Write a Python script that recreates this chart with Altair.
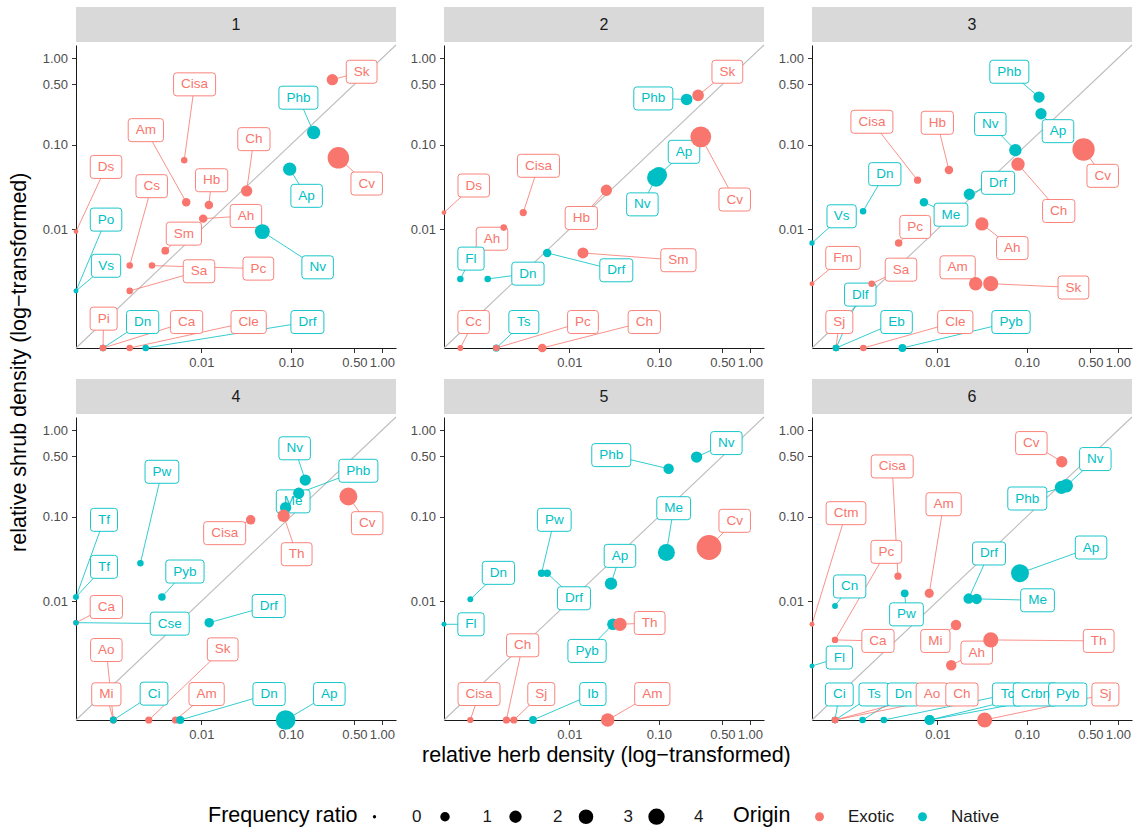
import altair as alt
import pandas as pd

FONT = "Liberation Sans"
EXOTIC, NATIVE = "#F8766D", "#00BFC4"

# ---------------- data ----------------
PANEL_NAMES = ["1", "2", "3", "4", "5", "6"]
DIAG = [0.0, 1.43]

P1_SPECIES = ["Sk", "Phb", "Cv", "Cisa", "Ap", "Ch", "Am", "Hb", "Ah", "Nv", "Ds", "Sm", "Cs", "Pc", "Sa", "Vs", "Po", "Pi", "Dn", "Ca", "Cle", "Drf"]
P1_ORIGIN = ["E", "N", "E", "E", "N", "E", "E", "E", "E", "N", "E", "E", "E", "E", "E", "N", "N", "E", "N", "E", "E", "N"]
P1_HERB = [0.286, 0.178, 0.333, 0.00634, 0.097, 0.0324, 0.00669, 0.0122, 0.0105, 0.0484, 0, 0.00376, 0.00127, 0.00256, 0.00127, 0, 0, 0.00043, 0.00043, 0.00043, 0.00127, 0.00212]
P1_SHRUB = [0.566, 0.138, 0.070, 0.0657, 0.0516, 0.0287, 0.0211, 0.0195, 0.01346, 0.00939, 0.00939, 0.00547, 0.00353, 0.00353, 0.00158, 0.00158, 0.00158, 0, 0, 0, 0, 0]
P1_FREQ = [1.6, 2.4, 7.8, 0.35, 2.4, 1.6, 0.74, 0.74, 0.74, 3.2, 0.1, 0.59, 0.35, 0.35, 0.35, 0.1, 0.1, 0.35, 0.35, 0.35, 0.35, 0.35]
P1_LABEL_X = [0.60, 0.121, 0.682, 0.00837, 0.149, 0.039, 0.00213, 0.0131, 0.0318, 0.197, 0.0005, 0.00628, 0.00254, 0.0437, 0.00941, 0.0005, 0.0005, 0.000445, 0.00193, 0.00675, 0.0341, 0.152]
P1_LABEL_Y = [0.70, 0.35, 0.035, 0.5, 0.0251, 0.1155, 0.147, 0.0383, 0.01449, 0.00335, 0.0548, 0.00887, 0.0326, 0.00322, 0.00297, 0.00351, 0.0131, 0.000523, 0.00044, 0.00044, 0.00044, 0.00044]

P2_SPECIES = ["Sk", "Phb", "Cv", "Ap", "Nv", "Cisa", "Ds", "Hb", "Ah", "Fl", "Dn", "Drf", "Sm", "Cc", "Ts", "Pc", "Ch"]
P2_ORIGIN = ["E", "N", "E", "N", "N", "E", "E", "E", "E", "N", "N", "N", "E", "E", "N", "E", "E"]
P2_HERB = [0.27, 0.202, 0.289, 0.1, 0.093, 0.00282, 0, 0.0262, 0.00155, 0.000225, 0.000887, 0.00553, 0.0143, 0.000225, 0.00121, 0.00121, 0.00483]
P2_SHRUB = [0.372, 0.334, 0.123, 0.044, 0.041, 0.0159, 0.0159, 0.0292, 0.0105, 0.00234, 0.00234, 0.00512, 0.00512, 0, 0, 0, 0]
P2_FREQ = [1.7, 1.7, 7.2, 4, 5, 0.47, 0.1, 1.6, 0.35, 0.35, 0.35, 0.74, 1.5, 0.24, 0.47, 0.35, 0.74]
P2_LABEL_X = [0.566, 0.0868, 0.682, 0.189, 0.0657, 0.00435, 0.000493, 0.0137, 0.00104, 0.00043, 0.00323, 0.0338, 0.164, 0.00049, 0.00287, 0.0143, 0.069]
P2_LABEL_Y = [0.70, 0.343, 0.0227, 0.0822, 0.0199, 0.0565, 0.0332, 0.0137, 0.00769, 0.00434, 0.00276, 0.00306, 0.00414, 0.00044, 0.00044, 0.00044, 0.00044]

P3_SPECIES = ["Phb", "Ap", "Cv", "Nv", "Ch", "Cisa", "Hb", "Dn", "Drf", "Me", "Vs", "Pc", "Ah", "Fm", "Sa", "Am", "Sk", "Sj", "Dlf", "Eb", "Cle", "Pyb"]
P3_ORIGIN = ["N", "N", "E", "N", "E", "E", "E", "N", "N", "N", "N", "E", "E", "E", "E", "E", "E", "E", "N", "N", "E", "N"]
P3_HERB = [0.136, 0.143, 0.42, 0.0746, 0.0798, 0.0059, 0.01357, 0.00116, 0.023, 0.007, 0, 0.00349, 0.0318, 0, 0.00155, 0.0271, 0.0398, 0.000367, 0.000367, 0.000367, 0.00117, 0.00388]
P3_SHRUB = [0.356, 0.228, 0.0875, 0.086, 0.059, 0.0383, 0.0503, 0.0165, 0.0262, 0.0211, 0.00681, 0.00681, 0.01162, 0.00201, 0.00201, 0.00201, 0.00201, 0, 0, 0, 0, 0]
P3_FREQ = [1.6, 1.6, 8.5, 2, 2.4, 0.47, 0.74, 0.35, 1.6, 0.74, 0.17, 0.53, 2.4, 0.13, 0.35, 2.5, 3.3, 0.35, 0.35, 0.35, 0.35, 0.59]
P3_LABEL_X = [0.064, 0.22, 0.682, 0.0394, 0.224, 0.00156, 0.01, 0.00233, 0.048, 0.0143, 0.00049, 0.00553, 0.069, 0.000523, 0.00373, 0.017, 0.325, 0.000438, 0.00105, 0.00329, 0.016, 0.0668]
P3_LABEL_Y = [0.70, 0.143, 0.0431, 0.173, 0.0166, 0.184, 0.179, 0.0451, 0.0357, 0.015, 0.01436, 0.0107, 0.0059, 0.00443, 0.00312, 0.00335, 0.00177, 0.00044, 0.00139, 0.00044, 0.00044, 0.00044]

P4_SPECIES = ["Nv", "Phb", "Me", "Th", "Cv", "Cisa", "Pw", "Tf", "Tf", "Pyb", "Ca", "Cse", "Drf", "Sk", "Ao", "Mi", "Ci", "Am", "Dn", "Ap"]
P4_ORIGIN = ["N", "N", "N", "E", "E", "E", "N", "N", "N", "N", "E", "N", "N", "E", "E", "E", "N", "E", "N", "N"]
P4_HERB = [0.144, 0.122, 0.0875, 0.0832, 0.429, 0.0359, 0.0018, 0, 0, 0.00342, 0, 0, 0.0123, 0.00233, 0.00069, 0.00069, 0.00069, 0.005, 0.00569, 0.0875]
P4_SHRUB = [0.265, 0.187, 0.127, 0.102, 0.171, 0.0915, 0.0284, 0.0113, 0.0113, 0.0113, 0.00547, 0.00547, 0.00547, 0, 0, 0, 0, 0, 0, 0]
P4_FREQ = [1.6, 1.6, 1.6, 2, 5, 1, 0.35, 0.2, 0.2, 0.53, 0.2, 0.2, 1, 0.47, 0.4, 0.4, 0.4, 0.47, 0.63, 6.3]
P4_LABEL_X = [0.11, 0.552, 0.106, 0.1158, 0.69, 0.0184, 0.00342, 0.000453, 0.000453, 0.00646, 0.000507, 0.00426, 0.0569, 0.0175, 0.000507, 0.000507, 0.00272, 0.0115, 0.0574, 0.265]
P4_LABEL_Y = [0.62, 0.34, 0.15, 0.0363, 0.0837, 0.064, 0.331, 0.0915, 0.0258, 0.0227, 0.00854, 0.00532, 0.00878, 0.00246, 0.00241, 0.000433, 0.000449, 0.00044, 0.00044, 0.00044]

P5_SPECIES = ["Nv", "Phb", "Me", "Cv", "Ap", "Pw", "Drf", "Dn", "Fl", "Pyb", "Th", "Ch", "Sj", "Cisa", "Ib", "Am"]
P5_ORIGIN = ["N", "N", "N", "E", "N", "N", "N", "N", "N", "N", "E", "E", "E", "E", "N", "E"]
P5_HERB = [0.26, 0.128, 0.121, 0.356, 0.0295, 0.00474, 0.00553, 0.000416, 0, 0.031, 0.0371, 0.00169, 0.00213, 0.000416, 0.00373, 0.0271]
P5_SHRUB = [0.49, 0.359, 0.038, 0.0435, 0.0163, 0.0217, 0.0217, 0.0106, 0.00522, 0.00522, 0.00522, 0, 0, 0, 0, 0]
P5_FREQ = [1.6, 1.3, 4.4, 11, 2, 0.53, 0.53, 0.24, 0.13, 1.7, 2.4, 0.47, 0.47, 0.3, 0.59, 2.5]
P5_LABEL_X = [0.552, 0.0297, 0.1455, 0.682, 0.0371, 0.0067, 0.0113, 0.0013, 0.00043, 0.0159, 0.0791, 0.00277, 0.0047, 0.000626, 0.0185, 0.0846]
P5_LABEL_Y = [0.713, 0.517, 0.125, 0.0891, 0.0347, 0.0915, 0.0109, 0.0219, 0.00522, 0.00234, 0.00542, 0.00279, 0.00044, 0.00044, 0.00044, 0.00044]

P6_SPECIES = ["Cv", "Nv", "Phb", "Ctm", "Cisa", "Pc", "Am", "Ap", "Drf", "Me", "Cn", "Pw", "Mi", "Ca", "Fl", "Th", "Ah", "Ci", "Ts", "Dn", "Ao", "Ch", "Tc", "Crbn", "Pyb", "Sj"]
P6_ORIGIN = ["E", "N", "N", "E", "E", "E", "E", "N", "N", "N", "N", "N", "E", "E", "N", "E", "E", "N", "N", "N", "E", "E", "N", "N", "N", "E"]
P6_HERB = [0.242, 0.272, 0.24, 0, 0.00342, 0.000347, 0.00807, 0.0839, 0.0226, 0.0278, 0.000347, 0.00414, 0.0163, 0.000347, 0, 0.0399, 0.0144, 0.000347, 0.000347, 0.00114, 0.000347, 0.000347, 0.00226, 0.00815, 0.00815, 0.0341]
P6_SHRUB = [0.433, 0.228, 0.218, 0.00522, 0.02, 0.00329, 0.0125, 0.0217, 0.0108, 0.0107, 0.00878, 0.0125, 0.00512, 0.00329, 0.00142, 0.00329, 0.00146, 0, 0, 0, 0, 0, 0, 0, 0, 0]
P6_FREQ = [1.6, 2.4, 2.4, 0.13, 0.47, 0.3, 0.92, 5, 1.3, 1.3, 0.24, 0.59, 1.3, 0.3, 0.13, 3.3, 1.3, 0.35, 0.35, 0.35, 0.35, 0.35, 0.35, 1.2, 1.2, 3.3]
P6_LABEL_X = [0.112, 0.566, 0.101, 0.000599, 0.0029, 0.00244, 0.0118, 0.508, 0.0381, 0.131, 0.0007, 0.00435, 0.0095, 0.00189, 0.000438, 0.616, 0.0278, 0.000438, 0.00167, 0.00399, 0.00867, 0.019, 0.0609, 0.124, 0.281, 0.73]
P6_LABEL_Y = [0.713, 0.465, 0.162, 0.1094, 0.382, 0.0387, 0.139, 0.0435, 0.037, 0.0103, 0.0151, 0.00694, 0.00319, 0.00319, 0.00189, 0.00319, 0.00222, 0.00043, 0.00043, 0.00043, 0.00043, 0.00043, 0.00043, 0.00043, 0.00043, 0.00043]

ORIGIN_NAMES = {"E": "Exotic", "N": "Native"}
SIZE_BREAKS = [0, 1, 2, 3, 4]
AXIS_TICKS = [0.01, 0.1, 0.5, 1.0]

PANELS = [
    (P1_SPECIES, P1_ORIGIN, P1_HERB, P1_SHRUB, P1_FREQ, P1_LABEL_X, P1_LABEL_Y),
    (P2_SPECIES, P2_ORIGIN, P2_HERB, P2_SHRUB, P2_FREQ, P2_LABEL_X, P2_LABEL_Y),
    (P3_SPECIES, P3_ORIGIN, P3_HERB, P3_SHRUB, P3_FREQ, P3_LABEL_X, P3_LABEL_Y),
    (P4_SPECIES, P4_ORIGIN, P4_HERB, P4_SHRUB, P4_FREQ, P4_LABEL_X, P4_LABEL_Y),
    (P5_SPECIES, P5_ORIGIN, P5_HERB, P5_SHRUB, P5_FREQ, P5_LABEL_X, P5_LABEL_Y),
    (P6_SPECIES, P6_ORIGIN, P6_HERB, P6_SHRUB, P6_FREQ, P6_LABEL_X, P6_LABEL_Y),
]

# ---------------- styling ----------------
PW, PH, SH = 320, 303, 35
LABEL_FS = 13.5
CHAR_W = {"A": 667, "B": 667, "C": 722, "D": 722, "E": 667, "F": 611, "H": 722, "I": 278,
          "M": 833, "N": 722, "P": 667, "S": 667, "T": 611,
          "a": 556, "b": 556, "c": 500, "d": 556, "e": 556, "f": 278, "g": 556, "h": 556,
          "i": 222, "j": 222, "k": 500, "l": 222, "m": 833, "n": 556, "o": 556, "p": 556,
          "r": 333, "s": 500, "t": 278, "v": 500, "w": 722, "y": 500}


def box_path(label, h=23.0, r=3.0):
    w = sum(CHAR_W.get(c, 556) for c in label) * LABEL_FS / 1000 + 15
    a, b = w / 2, h / 2
    return (f"M{-a + r},{-b}H{a - r}Q{a},{-b},{a},{-b + r}V{b - r}Q{a},{b},{a - r},{b}"
            f"H{-a + r}Q{-a},{b},{-a},{b - r}V{-b + r}Q{-a},{-b},{-a + r},{-b}Z")


ALL_SPECIES = sorted({s for p in PANELS for s in p[0]})
shape_scale = alt.Scale(domain=ALL_SPECIES, range=[box_path(s) for s in ALL_SPECIES])
origin_scale = alt.Scale(domain=["Exotic", "Native"], range=[EXOTIC, NATIVE])
size_scale = alt.Scale(type="pow", exponent=0.85, domain=[0, 11], range=[10.7, 616], nice=False)
origin_value = alt.condition(alt.datum.origin == "Exotic", alt.value(EXOTIC), alt.value(NATIVE))


def axis():
    return alt.Axis(values=AXIS_TICKS, format=".2f", title=None, grid=False, labelOverlap=False,
                    labelFlush=False, tickSize=4.5, tickColor="#333333", domainColor="#1a1a1a",
                    labelColor="#4d4d4d", labelFontSize=13, labelFont=FONT, labelPadding=4,
                    domainWidth=1, tickWidth=1)


def scale():
    return alt.Scale(type="symlog", constant=0.00044, domain=[0, DIAG[1]], nice=False, zero=False)


size_legend = alt.Legend(
    title="Frequency ratio", orient="none", legendX=132, legendY=801, direction="horizontal",
    titleOrient="left", titleFontSize=21.5, titleFontWeight="normal", titleColor="black",
    titleFont=FONT, labelFont=FONT, labelFontSize=17, labelColor="#1a1a1a",
    symbolFillColor="black", symbolStrokeWidth=0, values=SIZE_BREAKS, labelOffset=29,
    columnPadding=14.5, titlePadding=8, symbolType="circle")
color_legend = alt.Legend(
    title="Origin", orient="none", legendX=657, legendY=801, direction="horizontal",
    titleOrient="left", titleFontSize=21.5, titleFontWeight="normal", titleColor="black",
    titleFont=FONT, labelFont=FONT, labelFontSize=17, labelColor="#1a1a1a",
    symbolType="circle", symbolSize=80, symbolStrokeWidth=0, labelOffset=20,
    columnPadding=19, titlePadding=20)


def panel_chart(i):
    sp, org, herb, shrub, freq, lx, ly = PANELS[i]
    df = pd.DataFrame({"species": sp, "origin": [ORIGIN_NAMES[o] for o in org],
                       "herb": herb, "shrub": shrub, "freq": freq, "lx": lx, "ly": ly})
    base = alt.Chart(df)
    X = lambda f: alt.X(f"{f}:Q", scale=scale(), axis=axis())
    Y = lambda f: alt.Y(f"{f}:Q", scale=scale(), axis=axis())
    diag = alt.Chart(pd.DataFrame({"v": DIAG})).mark_line(
        color="#bdbdbd", strokeWidth=1.1).encode(x=X("v"), y=Y("v"))
    rules = base.mark_rule(strokeWidth=0.8).encode(
        x=X("herb"), y=Y("shrub"), x2="lx:Q", y2="ly:Q", stroke=origin_value)
    boxes = base.mark_point(filled=True, fill="white", fillOpacity=1, opacity=1,
                            strokeWidth=0.9, size=4).encode(
        x=X("lx"), y=Y("ly"),
        shape=alt.Shape("species:N", scale=shape_scale, legend=None),
        stroke=origin_value)
    texts = base.mark_text(fontSize=LABEL_FS, font=FONT, baseline="middle").encode(
        x=X("lx"), y=Y("ly"), text="species:N", fill=origin_value)
    pts = base.mark_circle(opacity=1).encode(
        x=X("herb"), y=Y("shrub"),
        size=alt.Size("freq:Q", scale=size_scale, legend=size_legend),
        color=alt.Color("origin:N", scale=origin_scale, legend=color_legend))
    plot = alt.layer(diag, rules, boxes, texts, pts).properties(width=PW, height=PH)

    sdf = pd.DataFrame({"panel": [PANEL_NAMES[i]]})
    strip_bg = alt.Chart(sdf).mark_rect(color="#d9d9d9").encode(
        x=alt.value(0), x2=alt.value(PW), y=alt.value(0), y2=alt.value(SH))
    strip_tx = alt.Chart(sdf).mark_text(fontSize=16, font=FONT, color="#1a1a1a").encode(text="panel:N")
    strip = alt.layer(strip_bg, strip_tx).properties(width=PW, height=SH)
    return alt.vconcat(strip, plot, spacing=0)


row1 = alt.hconcat(*[panel_chart(i) for i in range(3)], spacing=11)
row2 = alt.hconcat(*[panel_chart(i) for i in range(3, 6)], spacing=11)
grid = alt.vconcat(row1, row2, spacing=9).properties(
    title=alt.TitleParams("relative shrub density (log\u2212transformed)", orient="left",
                          anchor="middle", fontSize=21.5, fontWeight="normal", font=FONT,
                          color="black", offset=12, dx=12))
mid = alt.vconcat(grid).properties(
    title=alt.TitleParams("relative herb density (log\u2212transformed)", orient="bottom",
                          anchor="middle", fontSize=21.5, fontWeight="normal", font=FONT,
                          color="black", offset=3, dx=35))
chart = alt.vconcat(mid).properties(
    padding={"left": 8, "top": 7, "right": 4, "bottom": 4},
).resolve_scale(color="shared", size="shared").resolve_legend(
    color="shared", size="shared").configure_view(stroke=None)

chart.save("out.html", embed_options={"renderer": "svg", "actions": False})
